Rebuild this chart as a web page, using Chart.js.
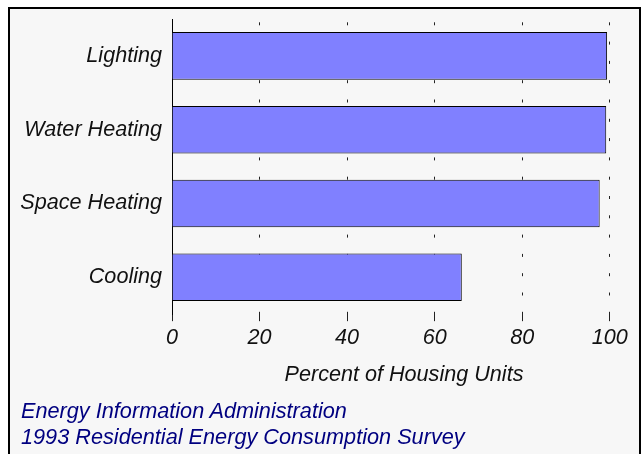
<!DOCTYPE html>
<html lang="en">
  <head>
    <meta charset="UTF-8" />
    <script src="https://cdn.jsdelivr.net/npm/chart.js@4.4.1/dist/chart.umd.min.js"></script>
    <title>Percent of Housing Units</title>
    <style>
      body {
        margin: 0;
        padding: 0;
        background: #fff;
        width: 642px;
        height: 454px;
        overflow: hidden;
        position: relative;
      }

      .frame {
        position: absolute;
        left: 8px;
        top: 7px;
        width: 629px;
        height: 470px;
        border: 2px solid #000;
        background: #f7f7f7;
      }

      #chart {
        position: absolute;
        left: 0;
        top: 0;
      }

      .source {
        position: absolute;
        left: 21px;
        top: 398px;
        font: italic 21.7px 'Liberation Sans', Arial, sans-serif;
        line-height: 26px;
        color: #000080;
      }
    </style>
  </head>
  <body>
    <div class="frame"></div>
    <canvas id="chart" width="642" height="454"></canvas>
    <div class="source">
      Energy Information Administration<br />
      1993 Residential Energy Consumption Survey
    </div>
    <script>
      const categories = ['Lighting', 'Water Heating', 'Space Heating', 'Cooling']
      const percentValues = [99.4, 99.2, 97.7, 66.2]
      const xTicks = [0, 20, 40, 60, 80, 100]

      const font = { family: "'Liberation Sans', Arial, sans-serif", size: 21.6, style: 'italic' }

      const ctx = document.getElementById('chart').getContext('2d')
      const chart = new Chart(ctx, {
        type: 'bar',
        data: {
          labels: categories,
          datasets: [
            {
              data: percentValues,
              backgroundColor: '#8080ff',
              borderColor: '#000000',
              borderWidth: 1,
              barPercentage: 0.645,
              categoryPercentage: 1,
            },
          ],
        },
        options: {
          indexAxis: 'y',
          responsive: false,
          animation: false,
          layout: {
            padding: { top: 19, right: 6, bottom: 66, left: 0 },
          },
          plugins: {
            legend: { display: false },
            tooltip: { enabled: false },
          },
          scales: {
            x: {
              type: 'linear',
              min: 0,
              max: 106,
              afterBuildTicks: (scale) => {
                scale.ticks = xTicks.map((v) => ({ value: v }))
              },
              ticks: {
                font: font,
                color: '#111',
                padding: 4,
                includeBounds: false,
              },
              grid: {
                color: '#222',
                lineWidth: 1,
                tickBorderDash: [],
                tickLength: 7,
              },
              border: {
                display: false,
                dash: [3, 16.3],
                dashOffset: 16,
              },
              title: {
                display: true,
                text: 'Percent of Housing Units',
                font: font,
                color: '#111',
                padding: { top: 7, bottom: 0 },
              },
            },
            y: {
              afterFit: (scale) => {
                scale.width = 172
                scale.paddingTop = 0
                scale.paddingBottom = 0
              },
              ticks: {
                font: font,
                color: '#111',
                padding: 10,
              },
              grid: { display: false, drawTicks: false },
              border: { display: true, color: '#000', width: 1 },
            },
          },
        },
      })
    </script>
  </body>
</html>
